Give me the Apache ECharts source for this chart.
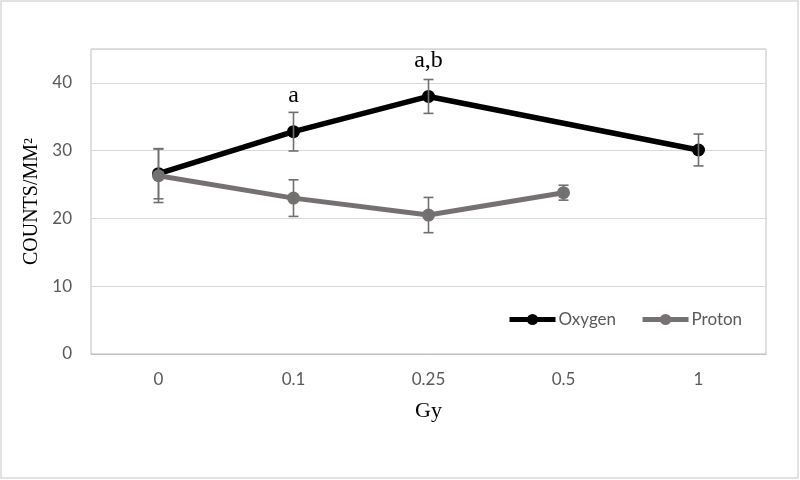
<!DOCTYPE html>
<html>
<head>
<meta charset="utf-8">
<script src="https://cdn.jsdelivr.net/npm/echarts@6/dist/echarts.min.js"></script>
<style>html,body{margin:0;padding:0;background:#fff}#c{width:800px;height:480px}</style>
</head>
<body>
<div id="c"></div>
<script>
const categories = ['0', '0.1', '0.25', '0.5', '1'];
const oxygen = [26.6, 32.8, 38.0, null, 30.1];
const oxygenErr = [3.7, 2.85, 2.5, null, 2.35];
const proton = [26.3, 23.0, 20.5, 23.8, null];
const protonErr = [3.95, 2.7, 2.6, 1.1, null];
const oxygenMarks = ['', 'a', 'a,b', '', ''];
const yTicks = [0, 10, 20, 30, 40];

const chart = echarts.init(document.getElementById('c'), null, {renderer: 'canvas'});

function errData(vals, errs) {
  const out = [];
  vals.forEach((v, i) => { if (v != null && errs[i] != null) out.push([i, v, errs[i]]); });
  return out;
}
function errRender(params, api) {
  const i = api.value(0), v = api.value(1), e = api.value(2);
  const top = api.coord([i, v + e]);
  const bot = api.coord([i, v - e]);
  const hw = 5;
  const style = {stroke: '#6f6f6f', lineWidth: 1.6};
  return {
    type: 'group',
    children: [
      {type: 'line', shape: {x1: top[0], y1: top[1], x2: bot[0], y2: bot[1]}, style: style},
      {type: 'line', shape: {x1: top[0] - hw, y1: top[1], x2: top[0] + hw, y2: top[1]}, style: style},
      {type: 'line', shape: {x1: bot[0] - hw, y1: bot[1], x2: bot[0] + hw, y2: bot[1]}, style: style}
    ]
  };
}

const oxygenData = oxygen.map((v, i) => {
  if (oxygenMarks[i]) {
    return {value: v, label: {show: true, position: 'top', distance: 17, formatter: oxygenMarks[i],
      fontFamily: 'Liberation Serif', fontSize: 24, color: '#000'}};
  }
  return v;
});

const option = {
  animation: false,
  backgroundColor: '#fff',
  graphic: [{
    type: 'rect', shape: {x: 1, y: 1, width: 797, height: 477},
    style: {fill: 'none', stroke: '#d9d9d9', lineWidth: 1.5}, z: -1
  }],
  grid: {left: 91, right: 34, top: 49, bottom: 126, show: true, borderColor: '#bfbfbf', borderWidth: 1, backgroundColor: 'transparent'},
  legend: {
    left: 502, top: 306, itemWidth: 46, itemHeight: 14, itemGap: 24,
    lineStyle: {width: 5},
    textStyle: {fontFamily: 'Lato', fontSize: 17, color: '#595959', padding: [0, 0, 0, -2]},
    data: ['Oxygen', 'Proton']
  },
  xAxis: {
    type: 'category', data: categories, boundaryGap: true,
    axisLine: {show: true, lineStyle: {color: '#bfbfbf', width: 1}},
    axisTick: {show: false},
    axisLabel: {margin: 17, fontFamily: 'Lato', fontSize: 17, color: '#595959'},
    name: 'Gy', nameLocation: 'middle', nameGap: 46,
    nameTextStyle: {fontFamily: 'Liberation Serif', fontSize: 22, color: '#000'}
  },
  yAxis: {
    type: 'value', min: 0, max: 45, interval: 10,
    axisLine: {show: false}, axisTick: {show: false},
    axisLabel: {margin: 19, fontFamily: 'Lato', fontSize: 17, color: '#595959',
      formatter: v => (yTicks.indexOf(v) >= 0 ? String(v) : '')},
    splitLine: {show: true, lineStyle: {color: '#d9d9d9', width: 1.2}},
    name: 'COUNTS/MM²', nameLocation: 'middle', nameGap: 48, nameRotate: 90,
    nameTextStyle: {fontFamily: 'Liberation Serif', fontSize: 20, color: '#000'}
  },
  series: [
    {
      name: 'Oxygen', type: 'line', data: oxygenData, connectNulls: true,
      symbol: 'circle', symbolSize: 13,
      lineStyle: {color: '#000', width: 5.5}, itemStyle: {color: '#000'}, z: 3
    },
    {
      name: 'Proton', type: 'line', data: proton, connectNulls: false,
      symbol: 'circle', symbolSize: 13,
      lineStyle: {color: '#767171', width: 5}, itemStyle: {color: '#767171'}, z: 4
    },
    {type: 'custom', name: 'oxErr', renderItem: errRender, data: errData(oxygen, oxygenErr), encode: {x: 0, y: 1}, z: 5, silent: true},
    {type: 'custom', name: 'prErr', renderItem: errRender, data: errData(proton, protonErr), encode: {x: 0, y: 1}, z: 5, silent: true}
  ]
};
chart.setOption(option);
</script>
</body>
</html>
